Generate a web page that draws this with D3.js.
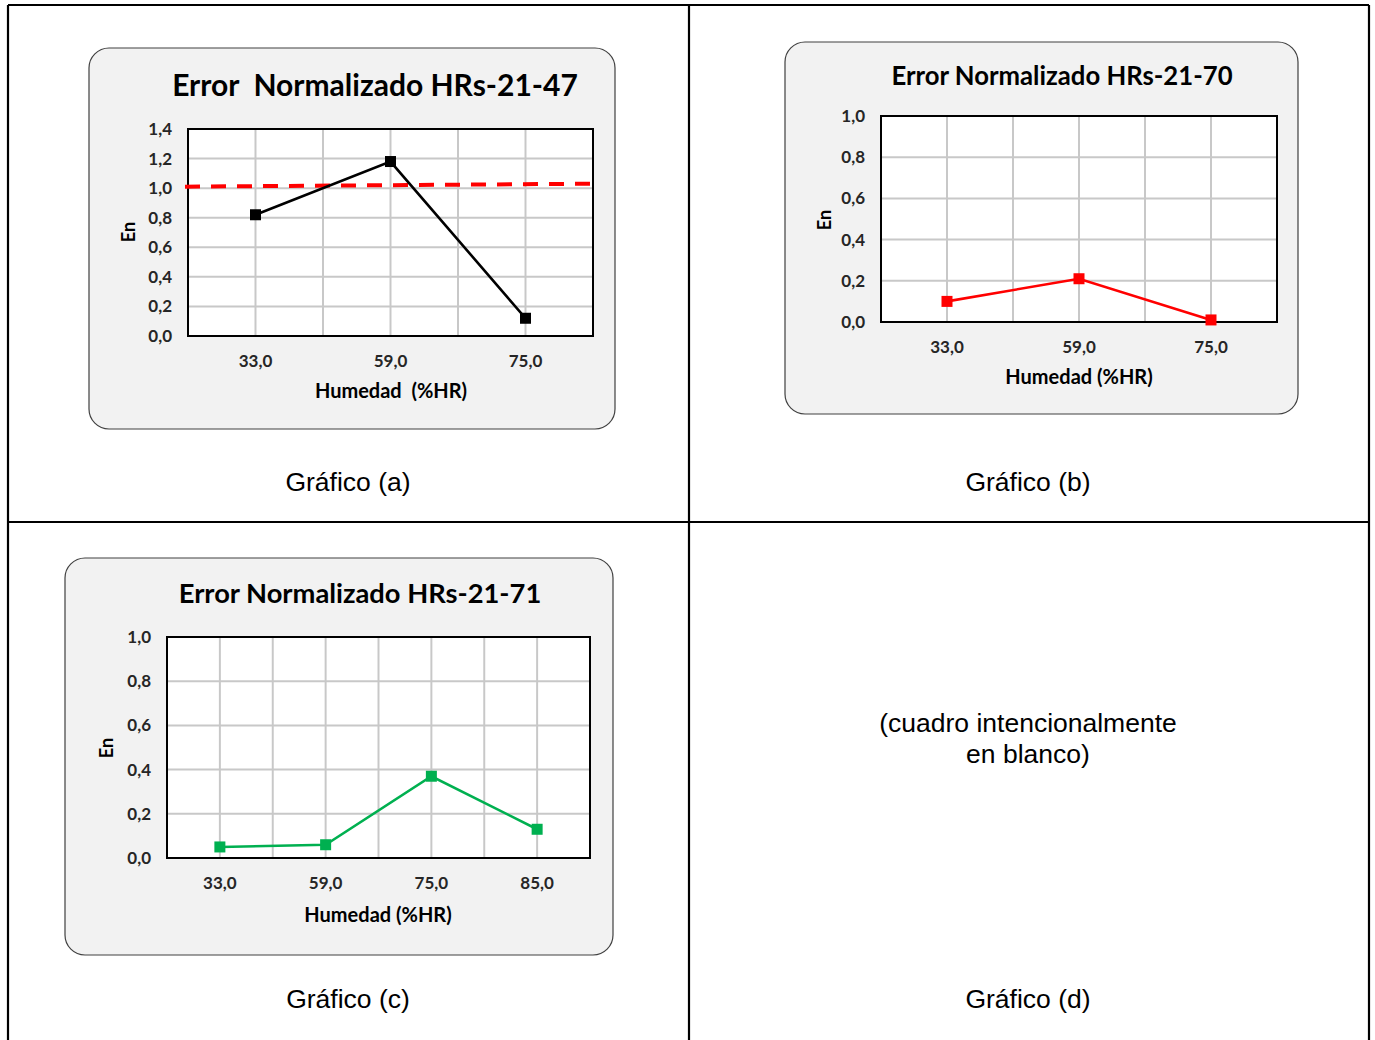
<!DOCTYPE html>
<html>
<head>
<meta charset="utf-8">
<script src="https://cdn.jsdelivr.net/npm/d3@7"></script>
<style>
body { margin: 0; background: #fff; }
svg { display: block; }
</style>
</head>
<body>
<div id="chart"></div>
<script>
// data
var catsA = ["33,0", "59,0", "75,0"];
var valsA = [0.82, 1.18, 0.12];
var limitA = [1.01, 1.03];   // red dashed En = 1 line (left end, right end)
var ticksA = [0, 0.2, 0.4, 0.6, 0.8, 1.0, 1.2, 1.4];

var catsB = ["33,0", "59,0", "75,0"];
var valsB = [0.10, 0.21, 0.01];
var ticksB = [0, 0.2, 0.4, 0.6, 0.8, 1.0];

var catsC = ["33,0", "59,0", "75,0", "85,0"];
var valsC = [0.05, 0.06, 0.37, 0.13];
var ticksC = [0, 0.2, 0.4, 0.6, 0.8, 1.0];

var W = 1375, H = 1040;
var font = "Lato, 'Open Sans', sans-serif";
var fmt = function (d) { return d3.format(".1f")(d).replace(".", ","); };

var svg = d3.select("#chart").append("svg")
    .attr("width", W)
    .attr("height", H);

// table frame
var frame = svg.append("g")
    .attr("stroke", "#000")
    .attr("stroke-width", 2.2);
frame.append("line").attr("x1", 8).attr("x2", 8).attr("y1", 5).attr("y2", H);
frame.append("line").attr("x1", 1369).attr("x2", 1369).attr("y1", 5).attr("y2", H);
frame.append("line").attr("x1", 689).attr("x2", 689).attr("y1", 5).attr("y2", H);
frame.append("line").attr("x1", 8).attr("x2", 1369).attr("y1", 5).attr("y2", 5);
frame.append("line").attr("x1", 8).attr("x2", 1369).attr("y1", 522).attr("y2", 522);

function caption(x, y, lines) {
    var t = svg.append("text")
        .attr("x", x)
        .attr("y", y)
        .attr("text-anchor", "middle")
        .style("font-family", "'Liberation Sans', Arial, sans-serif")
        .style("font-size", "26.5px")
        .attr("fill", "#000");
    lines.forEach(function (l, i) {
        t.append("tspan").attr("x", x).attr("dy", i ? 31 : 0).text(l);
    });
}

caption(348, 491, ["Gráfico (a)"]);
caption(1028, 491, ["Gráfico (b)"]);
caption(348, 1008, ["Gráfico (c)"]);
caption(1028, 1008, ["Gráfico (d)"]);
caption(1028, 732, ["(cuadro intencionalmente", "en blanco)"]);

function drawChart(o) {
    var g = svg.append("g");

    g.append("rect")
        .attr("x", o.box[0]).attr("y", o.box[1])
        .attr("width", o.box[2] - o.box[0]).attr("height", o.box[3] - o.box[1])
        .attr("rx", 20).attr("ry", 20)
        .attr("fill", "#f2f2f2")
        .attr("stroke", "#404040")
        .attr("stroke-width", 1.2);

    var x = d3.scaleBand().domain(o.cats).range([o.plot[0], o.plot[2]]);
    var y = d3.scaleLinear().domain([0, d3.max(o.ticks)]).range([o.plot[3], o.plot[1]]);

    g.append("rect")
        .attr("x", o.plot[0]).attr("y", o.plot[1])
        .attr("width", o.plot[2] - o.plot[0]).attr("height", o.plot[3] - o.plot[1])
        .attr("fill", "#fff");

    // gridlines
    var grid = g.append("g").attr("stroke", "#c8c8c8").attr("stroke-width", 2);
    grid.selectAll(".hy")
        .data(o.ticks.slice(1, -1))
        .enter().append("line")
        .attr("x1", o.plot[0]).attr("x2", o.plot[2])
        .attr("y1", y).attr("y2", y);
    var vx = [];
    o.cats.forEach(function (c, i) {
        if (i > 0) vx.push(x(c));
        vx.push(x(c) + x.bandwidth() / 2);
    });
    grid.selectAll(".vx")
        .data(vx)
        .enter().append("line")
        .attr("x1", function (d) { return d; }).attr("x2", function (d) { return d; })
        .attr("y1", o.plot[1]).attr("y2", o.plot[3]);

    g.append("rect")
        .attr("x", o.plot[0]).attr("y", o.plot[1])
        .attr("width", o.plot[2] - o.plot[0]).attr("height", o.plot[3] - o.plot[1])
        .attr("fill", "none")
        .attr("stroke", "#000")
        .attr("stroke-width", 2);

    // y axis labels
    var yAxis = g.append("g")
        .attr("transform", "translate(" + o.plot[0] + ",0)")
        .call(d3.axisLeft(y).tickValues(o.ticks).tickFormat(fmt).tickSize(0).tickPadding(16));
    yAxis.select(".domain").remove();
    yAxis.selectAll("text")
        .style("font-family", font).style("font-size", "17px").style("font-weight", "bold")
        .attr("fill", "#262626");

    var xAxis = g.append("g")
        .attr("transform", "translate(0," + o.plot[3] + ")")
        .call(d3.axisBottom(x).tickSize(0).tickPadding(19));
    xAxis.select(".domain").remove();
    xAxis.selectAll("text")
        .style("font-family", font).style("font-size", "17px").style("font-weight", "bold")
        .attr("fill", "#262626");

    if (o.limit) {
        var lx = d3.scaleLinear().domain([0, 1]).range([o.plot[0] - 3, o.plot[2]]);
        g.append("path")
            .datum(o.limit)
            .attr("fill", "none")
            .attr("stroke", "#ff0000")
            .attr("stroke-width", 4)
            .attr("stroke-dasharray", "15,11")
            .attr("d", d3.line()
                .x(function (d, i) { return lx(i); })
                .y(function (d) { return y(d); }));
    }

    var line = d3.line()
        .x(function (d, i) { return x(o.cats[i]) + x.bandwidth() / 2; })
        .y(function (d) { return y(d); });

    g.append("path")
        .datum(o.vals)
        .attr("fill", "none")
        .attr("stroke", o.color)
        .attr("stroke-width", 2.6)
        .attr("d", line);

    g.selectAll(".mk")
        .data(o.vals)
        .enter().append("rect")
        .attr("x", function (d, i) { return x(o.cats[i]) + x.bandwidth() / 2 - 5.5; })
        .attr("y", function (d) { return y(d) - 5.5; })
        .attr("width", 11).attr("height", 11)
        .attr("fill", o.color);

    g.append("text")
        .attr("x", o.title[0]).attr("y", o.title[1])
        .attr("text-anchor", "middle")
        .style("font-family", font).style("font-size", o.title[2] + "px").style("font-weight", "bold")
        .style("white-space", "pre")
        .attr("fill", "#000")
        .text(o.titleText);

    g.append("text")
        .attr("transform", "translate(" + o.ylab[0] + "," + o.ylab[1] + ") rotate(-90)")
        .attr("text-anchor", "middle")
        .style("font-family", font).style("font-size", "18px").style("font-weight", "bold")
        .attr("fill", "#000")
        .text("En");

    g.append("text")
        .attr("x", o.xlab[0]).attr("y", o.xlab[1])
        .attr("text-anchor", "middle")
        .style("font-family", font).style("font-size", "20px").style("font-weight", "bold")
        .style("white-space", "pre")
        .attr("fill", "#000")
        .text(o.xlabText);
}

drawChart({
    box: [89, 48, 615, 429],
    plot: [188, 129, 593, 336],
    cats: catsA, vals: valsA, ticks: ticksA, limit: limitA,
    color: "#000",
    titleText: "Error  Normalizado HRs-21-47", title: [375, 96, 30],
    ylab: [135, 232], xlab: [391, 398], xlabText: "Humedad  (%HR)"
});

drawChart({
    box: [785, 42, 1298, 414],
    plot: [881, 116, 1277, 322],
    cats: catsB, vals: valsB, ticks: ticksB,
    color: "#ff0000",
    titleText: "Error Normalizado HRs-21-70", title: [1062, 85, 25.7],
    ylab: [831, 220], xlab: [1079, 384], xlabText: "Humedad (%HR)"
});

drawChart({
    box: [65, 558, 613, 955],
    plot: [167, 637, 590, 858],
    cats: catsC, vals: valsC, ticks: ticksC,
    color: "#00b050",
    titleText: "Error Normalizado HRs-21-71", title: [360, 603, 27.3],
    ylab: [113, 748], xlab: [378, 922], xlabText: "Humedad (%HR)"
});
</script>
</body>
</html>
